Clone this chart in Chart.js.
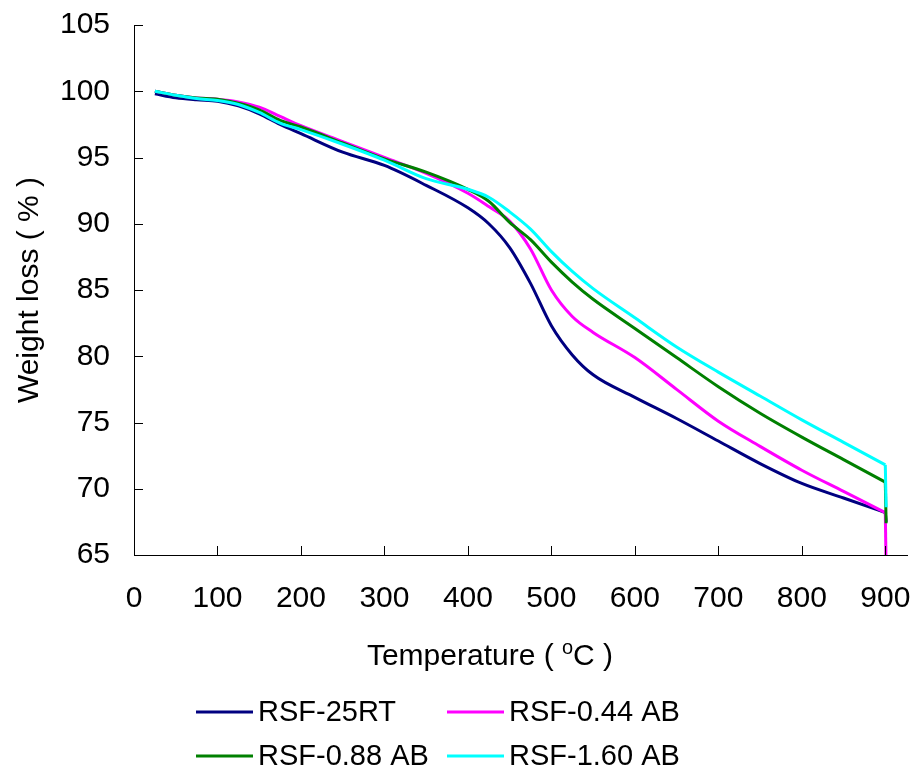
<!DOCTYPE html>
<html>
<head>
<meta charset="utf-8">
<script src="https://cdn.jsdelivr.net/npm/chart.js@4/dist/chart.umd.min.js"></script>
<style>
  html, body { margin: 0; padding: 0; background: #fff; }
  #wrap { width: 918px; height: 771px; }
</style>
</head>
<body>
<div id="wrap"><canvas id="tgaChart"></canvas></div>
<script>
// temperatures (°C)
const temps = [25, 50, 75, 100, 125, 150, 175, 200, 250, 300, 350, 400, 425, 450, 475, 500, 525, 550, 600, 650, 700, 750, 800, 850, 900];

// weight (%) for each sample
const rsf25RT = [99.8, 99.5, 99.35, 99.25, 98.9, 98.3, 97.5, 96.8, 95.4, 94.4, 92.9, 91.2, 90.0, 88.2, 85.5, 82.3, 80.1, 78.6, 76.9, 75.3, 73.6, 71.9, 70.4, 69.3, 68.2];
const rsf044 = [100.0, 99.7, 99.5, 99.4, 99.2, 98.8, 98.1, 97.4, 96.2, 95.0, 93.8, 92.3, 91.3, 90.2, 88.1, 85.0, 83.0, 81.8, 79.9, 77.5, 75.1, 73.2, 71.4, 69.8, 68.2];
const rsf088 = [100.0, 99.7, 99.5, 99.4, 99.1, 98.6, 97.8, 97.3, 96.1, 94.9, 93.9, 92.6, 91.7, 90.1, 88.8, 87.1, 85.6, 84.3, 82.1, 79.9, 77.7, 75.7, 73.9, 72.2, 70.5];
const rsf160 = [100.0, 99.7, 99.45, 99.3, 99.0, 98.4, 97.6, 97.1, 96.0, 94.8, 93.4, 92.6, 92.0, 90.9, 89.6, 87.9, 86.4, 85.1, 82.9, 80.7, 78.8, 77.0, 75.2, 73.5, 71.8];

// vertical drop at the end of each run
const dropTemp = 901;
const dropTo = [67.5, 64.0, 67.4, 68.6];

const seriesNames = ["RSF-25RT", "RSF-0.44 AB", "RSF-0.88 AB", "RSF-1.60 AB"];
const seriesColors = ["#000080", "#ff00ff", "#008000", "#00ffff"];
const seriesValues = [rsf25RT, rsf044, rsf088, rsf160];

const xTicks = [0, 100, 200, 300, 400, 500, 600, 700, 800, 900];
const yTicks = [65, 70, 75, 80, 85, 90, 95, 100, 105];

const FONT = "'Liberation Sans', Arial, sans-serif";

const toPoints = vals => vals.map((v, i) => ({ x: temps[i], y: v }));

// short tick marks pointing into the plot
const innerTicks = {
  id: 'innerTicks',
  afterDatasetsDraw(chart) {
    const ctx = chart.ctx;
    const xs = chart.scales.x, ys = chart.scales.y;
    const a = chart.chartArea;
    ctx.save();
    ctx.strokeStyle = '#000';
    ctx.lineWidth = 1;
    ctx.beginPath();
    xTicks.forEach(t => {
      const px = Math.round(xs.getPixelForValue(t)) + 0.5;
      ctx.moveTo(px, a.bottom);
      ctx.lineTo(px, a.bottom - 9);
    });
    yTicks.forEach(t => {
      const py = Math.round(ys.getPixelForValue(t)) + 0.5;
      ctx.moveTo(a.left, py);
      ctx.lineTo(a.left + 9, py);
    });
    ctx.stroke();
    ctx.restore();
  }
};

// x title with a superscript o, and the two-column legend
const bottomText = {
  id: 'bottomText',
  afterDraw(chart) {
    const ctx = chart.ctx;
    ctx.save();
    ctx.fillStyle = '#000';
    ctx.textBaseline = 'alphabetic';

    const big = "30px " + FONT, small = "20px " + FONT;
    const p1 = "Temperature ( ", p2 = "o", p3 = "C )";
    ctx.font = big;
    const w1 = ctx.measureText(p1).width, w3 = ctx.measureText(p3).width;
    ctx.font = small;
    const w2 = ctx.measureText(p2).width;
    let x = 490 - (w1 + w2 + w3) / 2;
    const base = 665;
    ctx.font = big;
    ctx.fillText(p1, x, base); x += w1;
    ctx.font = small;
    ctx.fillText(p2, x, base - 11); x += w2;
    ctx.font = big;
    ctx.fillText(p3, x, base);

    const colX = [196, 447];
    const rowY = [712, 756];
    ctx.font = "29px " + FONT;
    ctx.textBaseline = 'middle';
    seriesNames.forEach((name, i) => {
      const lx = colX[i % 2], ly = rowY[Math.floor(i / 2)];
      ctx.strokeStyle = seriesColors[i];
      ctx.lineWidth = 3;
      ctx.beginPath();
      ctx.moveTo(lx, ly);
      ctx.lineTo(lx + 57, ly);
      ctx.stroke();
      ctx.fillText(name, lx + 62, ly + 1);
    });
    ctx.restore();
  }
};

const curveSets = seriesNames.map((name, i) => ({
  label: name,
  data: toPoints(seriesValues[i]),
  borderColor: seriesColors[i],
  borderWidth: 3,
  pointRadius: 0,
  fill: false,
  cubicInterpolationMode: 'monotone',
  order: 2 * (3 - i) + 1
}));

const dropSets = seriesNames.map((name, i) => ({
  label: name + ' end',
  data: [{ x: temps[temps.length - 1], y: seriesValues[i][seriesValues[i].length - 1] },
         { x: dropTemp, y: dropTo[i] }],
  borderColor: seriesColors[i],
  borderWidth: 3,
  pointRadius: 0,
  fill: false,
  tension: 0,
  order: 2 * (3 - i)
}));

new Chart(document.getElementById("tgaChart"), {
  type: 'line',
  data: { datasets: curveSets.concat(dropSets) },
  options: {
    responsive: true,
    maintainAspectRatio: false,
    animation: false,
    layout: { padding: { left: 0, top: 25, right: 11, bottom: 96 } },
    plugins: {
      legend: { display: false },
      tooltip: { enabled: false }
    },
    scales: {
      x: {
        type: 'linear',
        min: 0,
        max: 926,
        border: { color: '#000', width: 1 },
        grid: { display: false },
        afterFit: s => { s.height = 120; s.paddingLeft = 0; s.paddingRight = 0; },
        afterBuildTicks: s => { s.ticks = xTicks.map(v => ({ value: v })); },
        ticks: {
          padding: 18,
          color: '#000',
          font: { family: FONT, size: 30 },
          maxRotation: 0
        }
      },
      y: {
        min: 65,
        max: 105,
        border: { color: '#000', width: 1 },
        grid: { display: false },
        afterFit: s => { s.width = 134; s.paddingTop = 0; s.paddingBottom = 0; },
        afterBuildTicks: s => { s.ticks = yTicks.map(v => ({ value: v })); },
        ticks: {
          padding: 16,
          color: '#000',
          font: { family: FONT, size: 30 }
        },
        title: {
          display: true,
          text: 'Weight loss ( % )',
          color: '#000',
          font: { family: FONT, size: 30 },
          padding: { top: 12, bottom: 0 }
        }
      }
    }
  },
  plugins: [innerTicks, bottomText]
});
</script>
</body>
</html>
